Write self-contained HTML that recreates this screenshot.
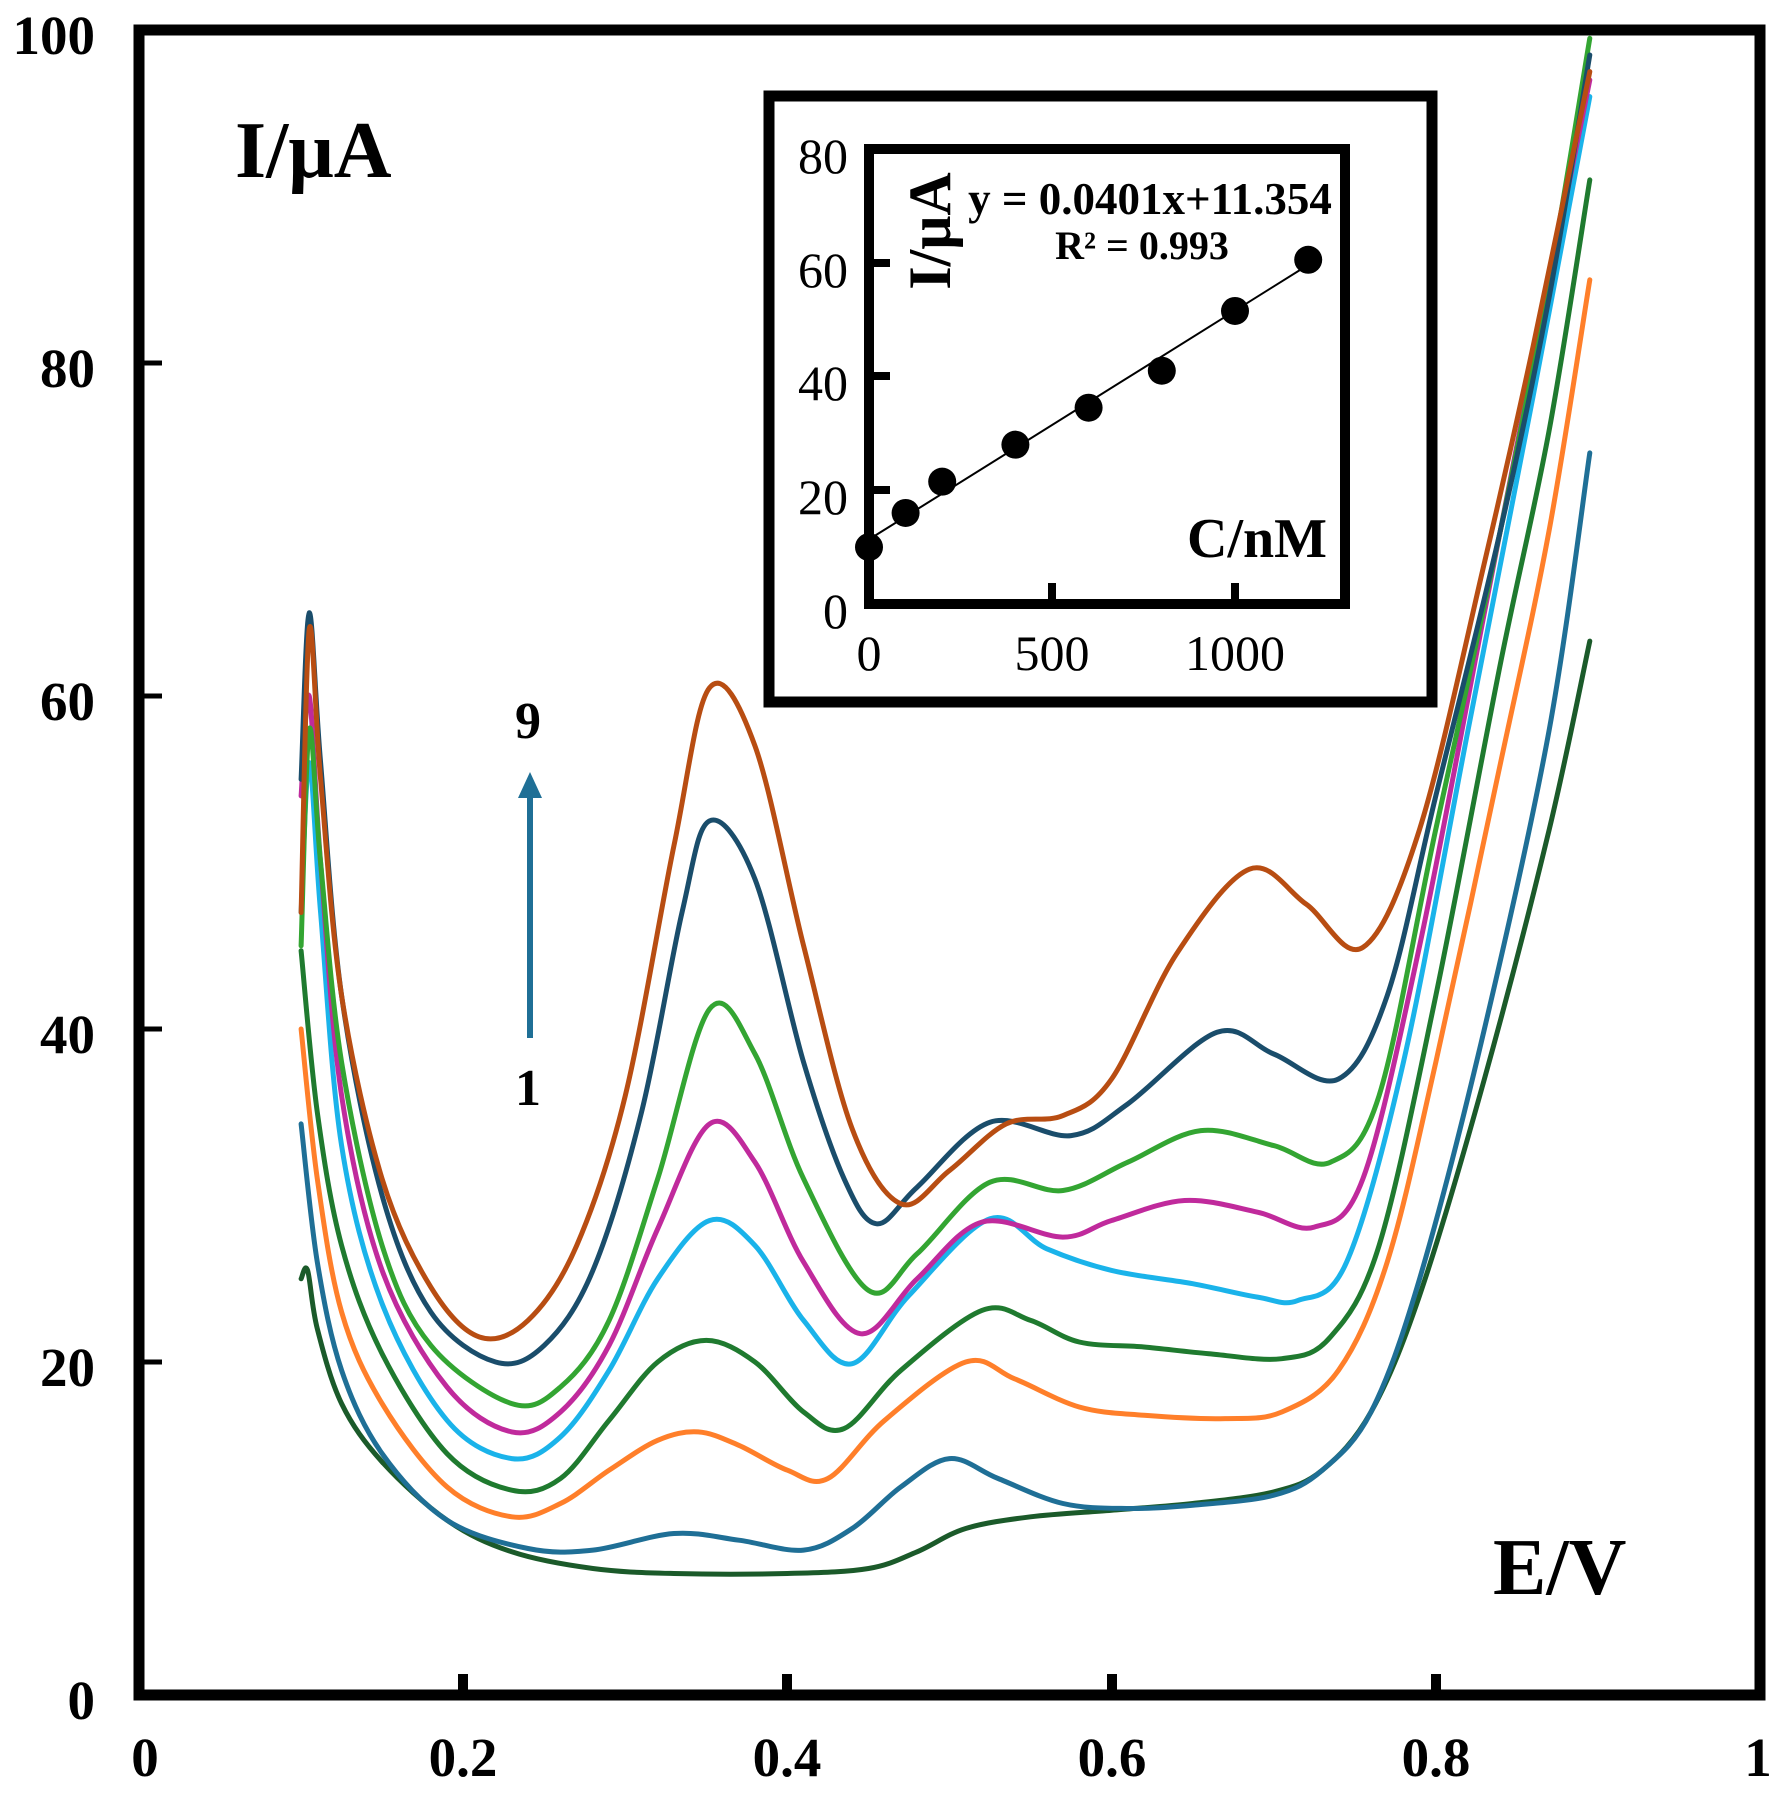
<!DOCTYPE html>
<html><head><meta charset="utf-8"><style>
html,body{margin:0;padding:0;background:#fff;}
svg{display:block;}
text{font-family:"Liberation Serif",serif;}
</style></head><body>
<svg id="s" width="1787" height="1818" viewBox="0 0 1787 1818" xmlns="http://www.w3.org/2000/svg">
<rect width="1787" height="1818" fill="#fff"/>
<g id="curves" fill="none" stroke-width="5" stroke-linejoin="round" stroke-linecap="round"></g>
<rect x="139" y="30" width="1621" height="1665" fill="none" stroke="#000" stroke-width="11"/>
<g stroke="#000" stroke-width="5">
<line x1="144" y1="1362" x2="162" y2="1362"/>
<line x1="144" y1="1029" x2="162" y2="1029"/>
<line x1="144" y1="696" x2="162" y2="696"/>
<line x1="144" y1="363" x2="162" y2="363"/>
</g>
<g stroke="#000" stroke-width="10">
<line x1="463" y1="1690" x2="463" y2="1674"/>
<line x1="787" y1="1690" x2="787" y2="1674"/>
<line x1="1112" y1="1690" x2="1112" y2="1674"/>
<line x1="1436" y1="1690" x2="1436" y2="1674"/>
</g>
<g font-size="55" font-weight="bold" text-anchor="end" fill="#000">
<text x="95" y="54">100</text>
<text x="95" y="387">80</text>
<text x="95" y="720">60</text>
<text x="95" y="1053">40</text>
<text x="95" y="1386">20</text>
<text x="95" y="1719">0</text>
</g>
<g font-size="55" font-weight="bold" text-anchor="middle" fill="#000">
<text x="145" y="1776">0</text>
<text x="463" y="1776">0.2</text>
<text x="787" y="1776">0.4</text>
<text x="1112" y="1776">0.6</text>
<text x="1436" y="1776">0.8</text>
<text x="1758" y="1776">1</text>
</g>
<text x="235" y="177" font-size="80" font-weight="bold">I/μA</text>
<text x="1493" y="1594" font-size="80" font-weight="bold">E/V</text>
<text x="528" y="738" font-size="52" font-weight="bold" text-anchor="middle">9</text>
<text x="528" y="1105" font-size="52" font-weight="bold" text-anchor="middle">1</text>
<line x1="530" y1="1038" x2="530" y2="790" stroke="#1f6f96" stroke-width="6"/>
<polygon points="530,772 518,798 542,798" fill="#1f6f96"/>
<!-- inset -->
<rect x="769" y="96" width="663" height="606" fill="#fff" stroke="#000" stroke-width="11"/>
<rect x="869" y="149" width="476" height="455" fill="#fff" stroke="#000" stroke-width="10"/>
<g stroke="#000" stroke-width="8">
<line x1="874" y1="490" x2="890" y2="490"/>
<line x1="874" y1="376" x2="890" y2="376"/>
<line x1="874" y1="263" x2="890" y2="263"/>
<line x1="1052" y1="599" x2="1052" y2="583"/>
<line x1="1235" y1="599" x2="1235" y2="583"/>
</g>
<line x1="869" y1="539.4" x2="1308" y2="265" stroke="#000" stroke-width="2"/>
<g fill="#000" id="dots"></g>
<g font-size="50" text-anchor="end" fill="#000">
<text x="848" y="628">0</text>
<text x="848" y="514">20</text>
<text x="848" y="400">40</text>
<text x="848" y="287">60</text>
<text x="848" y="173">80</text>
</g>
<g font-size="50" text-anchor="middle" fill="#000">
<text x="869" y="670">0</text>
<text x="1052" y="670">500</text>
<text x="1235" y="670">1000</text>
</g>
<text x="1150" y="214" font-size="45" font-weight="bold" text-anchor="middle">y = 0.0401x+11.354</text>
<text x="1142" y="259" font-size="40" font-weight="bold" text-anchor="middle">R² = 0.993</text>
<text transform="translate(950,231) rotate(-90)" font-size="60" font-weight="bold" text-anchor="middle">I/μA</text>
<text x="1327" y="557" font-size="56" font-weight="bold" text-anchor="end">C/nM</text>
</svg>
<script>
(function(){
var NS="http://www.w3.org/2000/svg";
function px(E){return 139+1621*E;} function py(I){return 1695-16.65*I;}
var C=[
["#1b5a2a",[[.1,25],[.104,25.5],[.11,22],[.125,17.5],[.15,14],[.19,10.5],[.23,8.6],[.28,7.6],[.33,7.3],[.40,7.3],[.45,7.6],[.48,8.6],[.51,10],[.55,10.7],[.60,11.1],[.65,11.5],[.70,12.2],[.73,13.5],[.76,17],[.79,24],[.83,37],[.87,52],[.895,63.3]]],
["#1f6f96",[[.1,34.3],[.11,26],[.125,19.5],[.15,14.5],[.19,10.5],[.24,8.8],[.28,8.7],[.33,9.7],[.37,9.3],[.41,8.7],[.44,10],[.47,12.5],[.50,14.2],[.53,13],[.57,11.5],[.61,11.2],[.65,11.4],[.70,12],[.73,13.5],[.76,17],[.79,25],[.83,40],[.87,58],[.895,74.6]]],
["#ff7f2a",[[.1,40],[.11,31],[.125,23],[.15,17.5],[.19,12.5],[.23,10.7],[.26,11.5],[.29,13.5],[.32,15.3],[.345,15.8],[.37,15],[.40,13.5],[.425,13],[.46,16.5],[.51,20],[.54,19],[.58,17.3],[.62,16.8],[.67,16.6],[.705,17],[.74,19.5],[.77,26],[.80,38],[.84,56],[.87,70],[.895,85]]],
["#1f7a2f",[[.1,44.7],[.11,35],[.125,27],[.15,20.5],[.19,14.5],[.23,12.3],[.26,13],[.29,16.5],[.32,20],[.35,21.3],[.38,20],[.41,17],[.435,16],[.47,19.5],[.52,23.1],[.55,22.5],[.58,21.2],[.62,20.9],[.66,20.5],[.705,20.2],[.735,21.5],[.765,27],[.80,42],[.84,62],[.87,76],[.895,91]]],
["#1ab3ea",[[.1,47],[.105,56],[.112,47],[.125,33],[.15,23.5],[.19,16.5],[.23,14.2],[.26,15.5],[.29,19.5],[.32,25],[.352,28.5],[.38,27],[.41,22.5],[.44,19.9],[.475,24],[.525,28.6],[.56,26.8],[.60,25.5],[.65,24.7],[.69,23.9],[.715,23.7],[.745,26],[.78,38],[.82,58],[.86,78],[.895,96]]],
["#c02a9c",[[.1,54],[.105,60],[.112,50],[.125,36],[.15,25.5],[.19,18.5],[.23,15.8],[.26,17],[.29,21],[.32,28],[.352,34.3],[.38,32],[.41,26],[.445,21.7],[.48,25],[.52,28.4],[.57,27.5],[.60,28.5],[.645,29.7],[.69,29],[.725,28.1],[.755,31],[.79,45],[.83,65],[.86,80],[.895,97]]],
["#33a532",[[.1,45],[.105,58],[.112,50],[.125,38],[.15,27],[.18,21],[.23,17.5],[.26,18.5],[.29,22.5],[.32,31],[.352,41.2],[.38,38.5],[.41,31],[.45,24.3],[.48,26.5],[.525,30.8],[.57,30.3],[.61,32],[.655,33.9],[.70,33],[.735,32],[.765,36],[.80,52],[.84,70],[.87,85],[.895,99.5]]],
["#1a4d6b",[[.1,55],[.105,65],[.112,56],[.125,42],[.15,30],[.18,23],[.22,20],[.25,21],[.28,25.5],[.31,35],[.335,47],[.352,52.5],[.38,49],[.41,38],[.435,31],[.455,28.3],[.48,30.5],[.525,34.4],[.575,33.6],[.61,35.5],[.665,39.8],[.70,38.5],[.74,37],[.77,42],[.80,54],[.84,70],[.87,84],[.895,98.5]]],
["#b84d12",[[.1,47],[.105,64],[.112,55],[.125,42],[.15,31],[.18,24.5],[.21,21.5],[.24,22.5],[.27,27],[.30,36],[.33,51],[.352,60.5],[.38,57],[.41,45],[.44,34],[.47,29.5],[.50,31.5],[.535,34.3],[.57,34.8],[.60,37],[.64,44.5],[.685,49.6],[.72,47.5],[.755,44.9],[.79,52],[.83,68],[.86,81],[.895,97.5]]]
];
var g=document.getElementById("curves");
C.forEach(function(c){
 var p=c[1].map(function(q){return [px(q[0]),py(q[1])];});
 var d="M"+p[0][0].toFixed(1)+","+p[0][1].toFixed(1);
 for(var i=0;i<p.length-1;i++){
  var p0=p[i-1]||p[i],p1=p[i],p2=p[i+1],p3=p[i+2]||p[i+1];
  var c1=[p1[0]+(p2[0]-p0[0])/6,p1[1]+(p2[1]-p0[1])/6];
  var c2=[p2[0]-(p3[0]-p1[0])/6,p2[1]-(p3[1]-p1[1])/6];
  d+=" C"+c1[0].toFixed(1)+","+c1[1].toFixed(1)+" "+c2[0].toFixed(1)+","+c2[1].toFixed(1)+" "+p2[0].toFixed(1)+","+p2[1].toFixed(1);
 }
 var e=document.createElementNS(NS,"path");e.setAttribute("d",d);e.setAttribute("stroke",c[0]);g.appendChild(e);
});
var D=[[0,10],[100,16],[200,21.5],[400,28],[600,34.5],[800,41],[1000,51.5],[1200,60.5]];
var dg=document.getElementById("dots");
D.forEach(function(q){var e=document.createElementNS(NS,"circle");e.setAttribute("cx",869+q[0]*0.366);e.setAttribute("cy",604-q[1]*5.69);e.setAttribute("r",14);dg.appendChild(e);});
})();
</script>
</body></html>
